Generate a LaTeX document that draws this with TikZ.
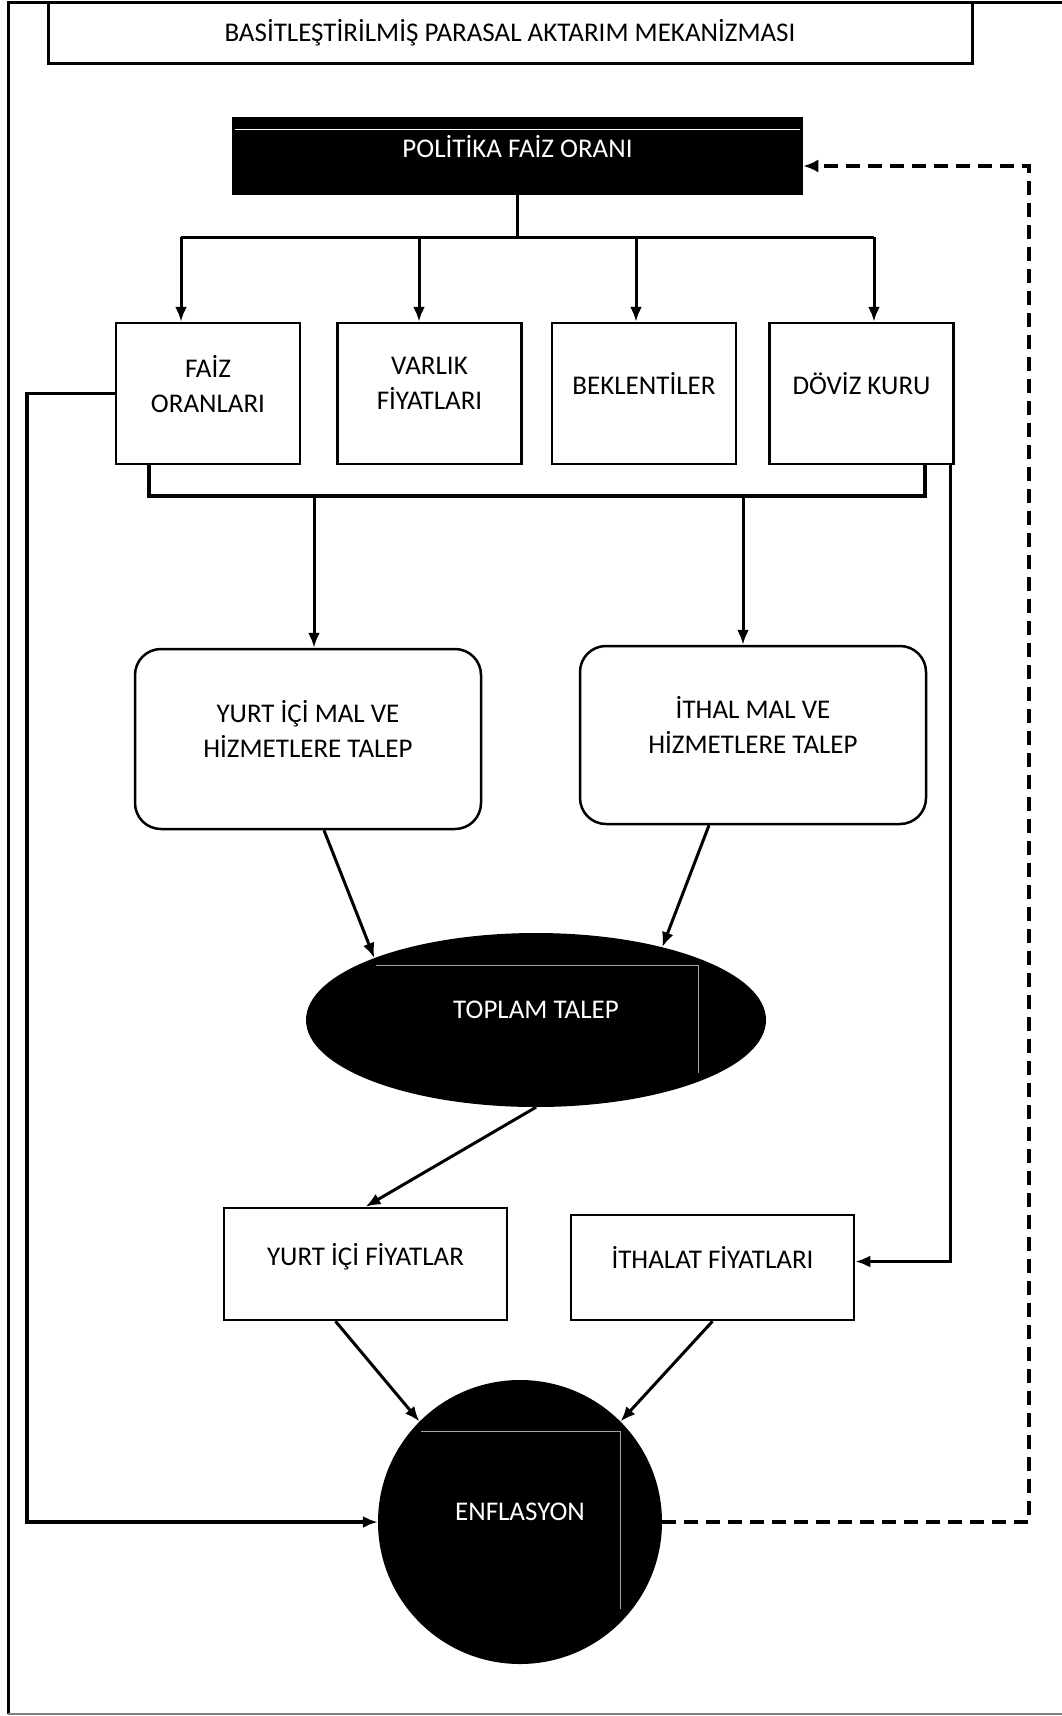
\documentclass[tikz,border=0pt]{standalone}
\usepackage{fontspec}
\setmainfont{Carlito}
\usetikzlibrary{shapes,arrows.meta,positioning}
\newcommand{\tpad}{\rule[-20pt]{0pt}{0pt}}
\tikzstyle{block} = [rectangle, draw, line width=2.5pt, align=center, inner sep=2pt,
    font=\fontsize{27}{35}\selectfont]
\tikzstyle{rblock} = [block, rounded corners=26pt]
\tikzstyle{dark} = [block, fill=black, text=white]
\tikzstyle{blob} = [ellipse, fill=black, text=white, align=center, inner sep=0pt,
    font=\fontsize{27}{35}\selectfont]
\tikzstyle{line} = [draw, line width=3pt, -{Latex[length=15pt,width=12pt]}]
\tikzstyle{bus} = [draw, line width=3pt]
\tikzstyle{dline} = [draw, line width=4pt, dash pattern=on 14pt off 8pt,
    -{Latex[length=15pt,width=13pt]}]

\begin{document}
\begin{tikzpicture}[x=1pt, y=-1pt]
    \useasboundingbox (0,0) rectangle (1062,1716);

    % Frame
    \draw[line width=3pt] (1062,2) -- (8,2) -- (8,1714);
    \draw[gray, line width=2pt] (8,1714) -- (1062,1714);

    % Place nodes
    \node [block, line width=3pt, minimum width=924pt, minimum height=61pt] (title) at (510,32.5)
        {BASİTLEŞTİRİLMİŞ PARASAL AKTARIM MEKANİZMASI};
    \node [dark, minimum width=569pt, minimum height=76pt] (pol) at (517.5,156) {POLİTİKA FAİZ ORANI\tpad};
    \node [block, minimum width=184pt, minimum height=141pt] (faiz) at (208,393.5) {FAİZ\\ORANLARI\tpad};
    \node [block, minimum width=184pt, minimum height=141pt, right=35pt of faiz] (varlik) {VARLIK\\FİYATLARI\tpad};
    \node [block, minimum width=184pt, minimum height=141pt, right=28pt of varlik] (bekl) {BEKLENTİLER\tpad};
    \node [block, minimum width=184pt, minimum height=141pt, right=31pt of bekl] (doviz) {DÖVİZ KURU\tpad};
    \node [rblock, minimum width=346pt, minimum height=180pt] (yurtic) at (308,739) {YURT İÇİ MAL VE\\HİZMETLERE TALEP\tpad};
    \node [rblock, minimum width=346pt, minimum height=178pt] (ithal) at (753,735) {İTHAL MAL VE\\HİZMETLERE TALEP\tpad};
    \node [blob, minimum width=460pt, minimum height=174pt] (toplam) at (536,1020) {TOPLAM TALEP\tpad};
    \node [block, minimum width=283pt, minimum height=112pt] (yurtf) at (365.5,1264) {YURT İÇİ FİYATLAR\tpad};
    \node [block, minimum width=283pt, minimum height=105pt] (ithalf) at (712.5,1267.5) {İTHALAT FİYATLARI\tpad};
    \node [blob, minimum width=284pt, minimum height=284pt] (enf) at (520,1522) {ENFLASYON\tpad};

    % text frame remnants
    \draw[white, line width=1pt] (235,129) -- (800,129);
    \draw[gray!70, line width=1pt] (375.5,965.6) -- (698.5,965.6) -- (698.5,1073);
    \draw[gray!70, line width=1pt] (421,1431) -- (620,1431) -- (620,1609);

    % Bus points
    \coordinate (busL) at (181,237);
    \coordinate (bus2) at (419,237);
    \coordinate (bus3) at (636,237);
    \coordinate (busR) at (874,237);
    \coordinate (brL) at (149,496);
    \coordinate (brR) at (925,496);
    \coordinate (drop1) at (314,496);
    \coordinate (drop2) at (743,496);
    \coordinate (lrail) at (27,393.5);
    \coordinate (drail) at (1029,166);

    % Draw edges
    \path [bus] (pol.south) -- (pol.south |- busL);
    \path [bus] (busL) -- (busR);
    \foreach \c/\n in {busL/faiz, bus2/varlik, bus3/bekl, busR/doviz}
        \path [line] (\c) -- (\c |- \n.north);
    \path [bus, line width=4pt] (brL |- faiz.south) -- (brL) -- (brR) -- (brR |- doviz.south);
    \path [line] (drop1) -- (drop1 |- yurtic.north);
    \path [line] (drop2) -- (drop2 |- ithal.north);
    \path [line] ([xshift=16pt]yurtic.south) -- (toplam.159);
    \path [line] ([xshift=-44pt]ithal.south) -- (toplam.30);
    \path [line] (toplam.south) -- (yurtf.north);
    \path [line] ([xshift=-30pt]yurtf.south) -- (enf.135);
    \path [line] (ithalf.south) -- (enf.45);
    \path [line, line width=3.5pt] (faiz.west) -- (lrail) |- (enf.west);
    \path [line] ([xshift=-4pt]doviz.south east) |- ([yshift=6pt]ithalf.east);
    \path [dline] (enf.east) -| (drail) -- ([yshift=-10pt]pol.east);

\end{tikzpicture}
\end{document}
